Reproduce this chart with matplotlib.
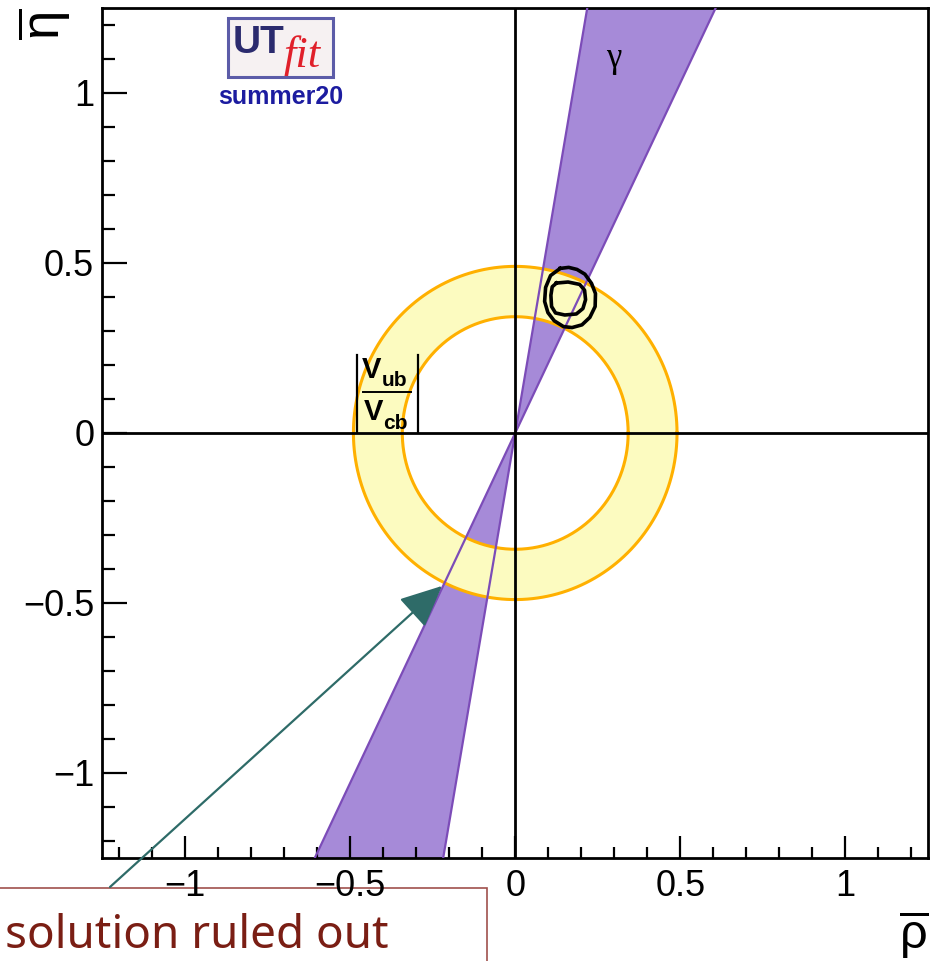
import numpy as np
import matplotlib
matplotlib.use('Agg')
import matplotlib.pyplot as plt
from matplotlib.lines import Line2D
from matplotlib.patches import Annulus, Polygon, Rectangle

plt.rcParams['font.family'] = ['Liberation Sans', 'DejaVu Sans']
plt.rcParams['mathtext.fontset'] = 'custom'
plt.rcParams['mathtext.rm'] = 'Liberation Sans'
plt.rcParams['mathtext.bf'] = 'Liberation Sans:bold'
plt.rcParams['mathtext.it'] = 'Liberation Sans'

# gamma band edges (degrees) and |Vub/Vcb| ring radii
gamma_lo_deg = 64.1
gamma_hi_deg = 80.1
vub_r_inner = 0.342
vub_r_outer = 0.490

# fit contours in the (rho, eta) plane
contour_outer_rho = [0.136, 0.162, 0.187, 0.211, 0.231, 0.243, 0.242, 0.226,
                     0.202, 0.172, 0.146, 0.118, 0.099, 0.089, 0.092, 0.107]
contour_outer_eta = [0.484, 0.487, 0.481, 0.467, 0.440, 0.410, 0.372, 0.340,
                     0.318, 0.310, 0.313, 0.330, 0.354, 0.387, 0.428, 0.463]
contour_inner_rho = [0.125, 0.160, 0.195, 0.210, 0.213, 0.205,
                     0.185, 0.150, 0.122, 0.110, 0.108, 0.112]
contour_inner_eta = [0.441, 0.444, 0.437, 0.420, 0.392, 0.366,
                     0.350, 0.347, 0.353, 0.372, 0.405, 0.430]

# excluded solution pointed at by the arrow
ruled_out_rho = -0.222
ruled_out_eta = -0.450

major_ticks = [-1, -0.5, 0, 0.5, 1]
major_labels = ['\u22121', '\u22120.5', '0', '0.5', '1']

W, H = 935, 961
fig = plt.figure(figsize=(W / 100, H / 100), dpi=100)
ax = fig.add_axes([0.1096, 0.1072, 0.8829, 0.8845])
ax.set_xlim(-1.25, 1.25)
ax.set_ylim(-1.25, 1.25)


def px(x, y):
    """Figure-fraction position from pixel position measured from top-left."""
    return x / W, 1 - y / H


# gamma wedge, symmetric through the origin
R = 5.0
lo = np.radians(gamma_lo_deg)
hi = np.radians(gamma_hi_deg)
for s in (1, -1):
    pts = [(0, 0), (s * R * np.cos(lo), s * R * np.sin(lo)),
           (s * R * np.cos(hi), s * R * np.sin(hi))]
    ax.add_patch(Polygon(pts, closed=True, facecolor='#a68ad8',
                         edgecolor='none', zorder=1))

# |Vub/Vcb| ring
ax.add_patch(Annulus((0, 0), vub_r_outer, vub_r_outer - vub_r_inner,
                     facecolor='#fcfbc0', edgecolor='none', zorder=2))
t = np.linspace(0, 2 * np.pi, 400)
for r in (vub_r_inner, vub_r_outer):
    ax.plot(r * np.cos(t), r * np.sin(t), color='#ffb000', lw=2.2, zorder=3)

for a in (lo, hi):
    ax.plot([-R * np.cos(a), R * np.cos(a)], [-R * np.sin(a), R * np.sin(a)],
            color='#7c4cb8', lw=1.6, zorder=4)

ax.axhline(0, color='black', lw=2.0, zorder=5)
ax.axvline(0, color='black', lw=2.0, zorder=5)

for xs, ys in ((contour_outer_rho, contour_outer_eta),
               (contour_inner_rho, contour_inner_eta)):
    ax.plot(xs + xs[:1], ys + ys[:1], color='black', lw=2.6,
            solid_joinstyle='round', zorder=6)

# axes styling
for sp in ax.spines.values():
    sp.set_linewidth(2.0)
ax.set_xticks(major_ticks)
ax.set_xticklabels(major_labels)
ax.set_yticks(major_ticks)
ax.set_yticklabels(major_labels)
ax.set_xticks(np.arange(-1.2, 1.21, 0.1), minor=True)
ax.set_yticks(np.arange(-1.2, 1.21, 0.1), minor=True)
ax.tick_params(axis='both', which='both', direction='in', width=1.6,
               labelsize=26, colors='black')
ax.tick_params(axis='x', which='major', length=16, pad=8)
ax.tick_params(axis='x', which='minor', length=8)
ax.tick_params(axis='y', which='major', length=18, pad=6)
ax.tick_params(axis='y', which='minor', length=9)

# gamma label
ax.text(0.297, 1.100, '\u03b3', family='Liberation Serif', fontsize=25,
        ha='center', va='center', zorder=8)

# |Vub / Vcb| label built from pieces
for x in (357, 418):
    fig.add_artist(Line2D([x / W, x / W], [1 - 355 / H, 1 - 432 / H],
                          color='black', lw=1.6))
fig.add_artist(Line2D([363 / W, 411 / W], [1 - 392 / H, 1 - 392 / H],
                      color='black', lw=1.4))
fig.text(*px(362, 378), 'V', fontsize=21, fontweight='bold', va='baseline')
fig.text(*px(382, 386), 'ub', fontsize=15, fontweight='bold', va='baseline')
fig.text(*px(364, 420), 'V', fontsize=21, fontweight='bold', va='baseline')
fig.text(*px(383, 429), 'cb', fontsize=15, fontweight='bold', va='baseline')

# axis titles
fig.text(0.977, 0.0, r'$\overline{\mathrm{\rho}}$', fontsize=35,
         ha='center', va='bottom')
fig.text(*px(44, 24), r'$\overline{\mathrm{\eta}}$', fontsize=38,
         rotation=90, ha='center', va='center')

# UTfit logo
fig.patches.append(Rectangle(px(228, 77), 105 / W, 59 / H,
                             transform=fig.transFigure, facecolor='#f6f1f2',
                             edgecolor='#5c5ca8', lw=2.2))
fig.text(*px(233, 53), 'UT', fontsize=28, fontweight='bold',
         color='#2b2b6e', va='baseline')
fig.text(*px(284, 67), 'fit', fontsize=32, style='italic',
         family='Liberation Serif', color='#e0202a', va='baseline')
fig.text(*px(281, 104), 'summer20', fontsize=18, fontweight='bold',
         color='#1c1ca0', ha='center', va='baseline')

# annotation box with arrow
fig.patches.append(Rectangle((-0.01, -0.02), 0.01 + 487 / W, 0.02 + 73 / H,
                             transform=fig.transFigure, facecolor='white',
                             edgecolor='#a0504d', lw=1.2, zorder=-1))
ax.annotate('', xy=(ruled_out_rho, ruled_out_eta), xycoords='data',
            xytext=(110, H - 887), textcoords='figure pixels',
            arrowprops=dict(arrowstyle='-|>,head_length=1.3,head_width=0.6',
                            mutation_scale=20, color='#2e6b68', lw=1.6,
                            shrinkA=0, shrinkB=0),
            annotation_clip=False, zorder=9)
fig.text(*px(5, 948), 'solution ruled out', family='Noto Sans',
         fontsize=33, color='#7a1e14', va='baseline')

fig.savefig('out.png', dpi=100)
